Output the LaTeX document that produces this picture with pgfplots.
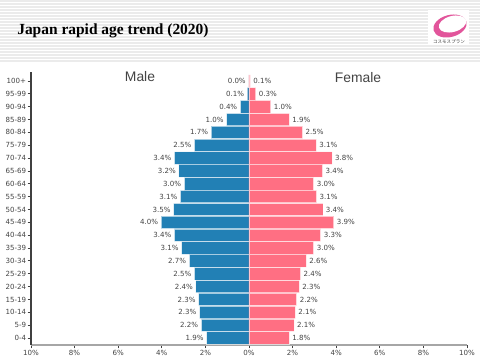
\documentclass[border=0pt]{standalone}
\usepackage{fontspec}
\setmainfont{Liberation Sans}
\newfontfamily\titlefont{Liberation Serif}
\newfontfamily\lblfont{DejaVu Sans}
\newfontfamily\cjk{Noto Sans CJK JP}
\usepackage{pgfplots}
\pgfplotsset{compat=1.18}
\definecolor{maleblue}{RGB}{34,128,181}
\definecolor{femalepink}{RGB}{255,111,131}
\definecolor{txtgray}{RGB}{68,68,68}
\definecolor{logopink}{RGB}{226,85,155}
\begin{document}
\begin{tikzpicture}[x=0.75pt,y=0.75pt]
\path[fill=white,use as bounding box] (0,0) rectangle (480,360);
\foreach \i in {0,...,20} { \draw[black!8,line width=0.8pt] (0,{359-3*\i}) -- (480,{359-3*\i}); }
% logo
\fill[white] (428,315) rectangle (469,350);
\fill[logopink, rotate around={15:(450,334)}] (450,334) ellipse (17 and 11);
\fill[white, rotate around={15:(452.5,336)}] (452.5,336) ellipse (14 and 8);
\node[font=\cjk\fontsize{3.4}{4}\selectfont, text=black!75, inner sep=0] at (449,318) {コスモスプラン};
% title
\node[anchor=base west, inner sep=0, font=\titlefont\bfseries\fontsize{11.6}{13}\selectfont] at (17,325) {Japan rapid age trend (2020)};
\begin{axis}[
  at={(23.25pt,11.25pt)}, anchor=south west, scale only axis,
  width=327pt, height=204.75pt,
  xmin=-10, xmax=10, ymin=-0.545, ymax=20.7,
  xbar, bar width=0.97, bar shift=0pt,
  axis x line*=bottom, axis y line*=left,
  x axis line style={-, black!35, line width=1.5pt},
  y axis line style={-, black!75, line width=1pt},
  xtick={-10,-8,...,10},
  xticklabels={10\%,8\%,6\%,4\%,2\%,0\%,2\%,4\%,6\%,8\%,10\%},
  ytick={0,...,20},
  yticklabels={0-4,5-9,10-14,15-19,20-24,25-29,30-34,35-39,40-44,45-49,50-54,55-59,60-64,65-69,70-74,75-79,80-84,85-89,90-94,95-99,100+},
  tick align=outside, major tick length=2.5pt,
  tick style={black!75, line width=0.6pt},
  ticklabel style={font=\lblfont\fontsize{5.3}{6}\selectfont, text=txtgray},
  yticklabel style={inner sep=1pt},
  xticklabel style={inner sep=1pt},
  point meta=explicit symbolic,
  nodes near coords,
  every node near coord/.append style={font=\lblfont\fontsize{5.3}{6}\selectfont, text=txtgray, inner sep=2pt},
  clip=false,
]
\addplot[fill=maleblue, draw=white, draw opacity=0.6, line width=0.6pt, bar shift=0pt,
  every node near coord/.append style={anchor=east}] coordinates {
(-1.94,0) [1.9\%]
(-2.19,1) [2.2\%]
(-2.27,2) [2.3\%]
(-2.31,3) [2.3\%]
(-2.44,4) [2.4\%]
(-2.50,5) [2.5\%]
(-2.74,6) [2.7\%]
(-3.09,7) [3.1\%]
(-3.42,8) [3.4\%]
(-4.03,9) [4.0\%]
(-3.46,10) [3.5\%]
(-3.15,11) [3.1\%]
(-2.97,12) [3.0\%]
(-3.22,13) [3.2\%]
(-3.42,14) [3.4\%]
(-2.50,15) [2.5\%]
(-1.74,16) [1.7\%]
(-1.03,17) [1.0\%]
(-0.40,18) [0.4\%]
(-0.09,19) [0.1\%]
(-0.01,20) [0.0\%]
};
\addplot[fill=femalepink, draw=white, draw opacity=0.6, line width=0.6pt, bar shift=0pt,
  every node near coord/.append style={anchor=west}] coordinates {
(1.85,0) [1.8\%]
(2.07,1) [2.1\%]
(2.13,2) [2.1\%]
(2.19,3) [2.2\%]
(2.31,4) [2.3\%]
(2.37,5) [2.4\%]
(2.63,6) [2.6\%]
(2.97,7) [3.0\%]
(3.29,8) [3.3\%]
(3.89,9) [3.9\%]
(3.39,10) [3.4\%]
(3.10,11) [3.1\%]
(2.97,12) [3.0\%]
(3.38,13) [3.4\%]
(3.81,14) [3.8\%]
(3.09,15) [3.1\%]
(2.46,16) [2.5\%]
(1.85,17) [1.9\%]
(1.00,18) [1.0\%]
(0.31,19) [0.3\%]
(0.06,20) [0.1\%]
};
\end{axis}
\node[font=\fontsize{10.4}{12}\selectfont, text=txtgray] at (140,283) {Male};
\node[font=\fontsize{10.4}{12}\selectfont, text=txtgray] at (358,282) {Female};
\end{tikzpicture}
\end{document}
